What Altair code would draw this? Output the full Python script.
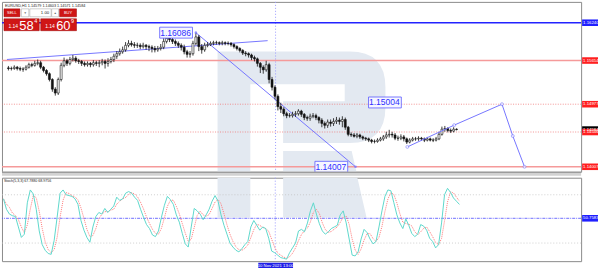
import altair as alt
import pandas as pd

# ---------------- data ----------------
header_text = "EURUSD,H1  1.14579 1.14603 1.14571 1.14584"
stoch_text = "Stoch(5,3,3) 67.7880 68.9756"

first_open = 1.1554
close = [1.1553, 1.1553, 1.1555, 1.1553, 1.1552, 1.1552, 1.1555, 1.1559, 1.1558, 1.1561,
         1.1562, 1.1555, 1.1550, 1.1545, 1.1536, 1.1521, 1.1515, 1.1536, 1.1558, 1.1565,
         1.1561, 1.1567, 1.1569, 1.1565, 1.1564, 1.1561, 1.1559, 1.1561, 1.1559, 1.1562,
         1.1561, 1.1562, 1.1564, 1.1561, 1.1564, 1.1567, 1.1572, 1.1576, 1.1579, 1.1582,
         1.1589, 1.1592, 1.1590, 1.1589, 1.1589, 1.1587, 1.1589, 1.1587, 1.1586, 1.1584,
         1.1582, 1.1584, 1.1586, 1.1595, 1.1600, 1.1598, 1.1595, 1.1592, 1.1589, 1.1586,
         1.1579, 1.1575, 1.1576, 1.1592, 1.1602, 1.1587, 1.1582, 1.1589, 1.1590, 1.1592,
         1.1593, 1.1593, 1.1592, 1.1593, 1.1592, 1.1592, 1.1590, 1.1587, 1.1584, 1.1581,
         1.1577, 1.1576, 1.1574, 1.1570, 1.1568, 1.1561, 1.1555, 1.1551, 1.1559, 1.1536,
         1.1524, 1.1510, 1.1494, 1.1490, 1.1483, 1.1480, 1.1480, 1.1482, 1.1483, 1.1487,
         1.1482, 1.1477, 1.1476, 1.1479, 1.1480, 1.1477, 1.1473, 1.1468, 1.1465, 1.1470,
         1.1468, 1.1471, 1.1473, 1.1471, 1.1474, 1.1462, 1.1451, 1.1450, 1.1448, 1.1450,
         1.1447, 1.1445, 1.1444, 1.1442, 1.1440, 1.1440, 1.1442, 1.1444, 1.1447, 1.1450,
         1.1451, 1.1450, 1.1445, 1.1445, 1.1447, 1.1444, 1.1439, 1.1442, 1.1444, 1.1444,
         1.1445, 1.1444, 1.1442, 1.1444, 1.1442, 1.1442, 1.1444, 1.1451, 1.1459, 1.1460,
         1.1457, 1.1456, 1.1459, 1.14584]
high = [1.1557, 1.1556, 1.1558, 1.1557, 1.1556, 1.1555, 1.1558, 1.1562, 1.1562, 1.1565,
        1.1567, 1.1565, 1.1557, 1.1552, 1.1547, 1.1538, 1.1524, 1.1539, 1.1562, 1.1570,
        1.1568, 1.1571, 1.1574, 1.1572, 1.1568, 1.1566, 1.1564, 1.1564, 1.1563, 1.1566,
        1.1565, 1.1566, 1.1568, 1.1567, 1.1569, 1.1571, 1.1576, 1.1580, 1.1584, 1.1587,
        1.1594, 1.1597, 1.1596, 1.1594, 1.1593, 1.1592, 1.1593, 1.1591, 1.1590, 1.1589,
        1.1588, 1.1588, 1.1591, 1.1600, 1.1605, 1.1604, 1.1601, 1.1598, 1.1595, 1.1592,
        1.1590, 1.1582, 1.1580, 1.1596, 1.16086, 1.1605, 1.1591, 1.1593, 1.1594, 1.1595,
        1.1596, 1.1596, 1.1595, 1.1596, 1.1595, 1.1595, 1.1594, 1.1592, 1.1589, 1.1586,
        1.1583, 1.1580, 1.1578, 1.1576, 1.1573, 1.1570, 1.1563, 1.1558, 1.1565, 1.1562,
        1.1540, 1.1527, 1.1513, 1.1500, 1.1493, 1.1486, 1.1484, 1.1486, 1.1487, 1.1490,
        1.1489, 1.1484, 1.1480, 1.1483, 1.1484, 1.1483, 1.1479, 1.1476, 1.1471, 1.1474,
        1.1474, 1.1476, 1.1478, 1.1477, 1.1479, 1.1477, 1.1464, 1.1454, 1.1453, 1.1453,
        1.1452, 1.1449, 1.1447, 1.1446, 1.1444, 1.1443, 1.1445, 1.1447, 1.1450, 1.1455,
        1.1458, 1.1455, 1.1453, 1.1449, 1.1451, 1.1450, 1.1446, 1.1445, 1.1447, 1.1447,
        1.1448, 1.1447, 1.1446, 1.1447, 1.1446, 1.1445, 1.1447, 1.1455, 1.1463, 1.1464,
        1.1462, 1.1460, 1.1462, 1.14603]
low = [1.1550, 1.1550, 1.1551, 1.1550, 1.1549, 1.1548, 1.1550, 1.1553, 1.1555, 1.1556,
       1.1558, 1.1552, 1.1547, 1.1542, 1.1533, 1.1517, 1.1511, 1.1512, 1.1533, 1.1555,
       1.1557, 1.1558, 1.1564, 1.1562, 1.1560, 1.1557, 1.1556, 1.1556, 1.1555, 1.1556,
       1.1557, 1.1555, 1.1558, 1.1553, 1.1556, 1.1561, 1.1563, 1.1568, 1.1573, 1.1576,
       1.1579, 1.1586, 1.1587, 1.1585, 1.1585, 1.1583, 1.1584, 1.1582, 1.1580, 1.1578,
       1.1578, 1.1579, 1.1581, 1.1583, 1.1592, 1.1594, 1.1591, 1.1588, 1.1585, 1.1581,
       1.1575, 1.1570, 1.1570, 1.1573, 1.1589, 1.1580, 1.1576, 1.1579, 1.1586, 1.1588,
       1.1589, 1.1590, 1.1589, 1.1589, 1.1589, 1.1589, 1.1587, 1.1584, 1.1581, 1.1578,
       1.1574, 1.1572, 1.1570, 1.1566, 1.1564, 1.1556, 1.1546, 1.1545, 1.1548, 1.1530,
       1.1519, 1.1505, 1.1488, 1.1484, 1.1479, 1.1476, 1.1477, 1.1477, 1.1478, 1.1480,
       1.1478, 1.1473, 1.1472, 1.1472, 1.1476, 1.1473, 1.1468, 1.1462, 1.1460, 1.1461,
       1.1463, 1.1464, 1.1467, 1.1466, 1.1462, 1.1458, 1.1448, 1.1447, 1.1446, 1.1445,
       1.1444, 1.1442, 1.1441, 1.1439, 1.1437, 1.1437, 1.1438, 1.1440, 1.1441, 1.1444,
       1.1446, 1.1446, 1.1442, 1.1441, 1.1442, 1.1440, 1.1436, 1.1437, 1.1440, 1.1441,
       1.1441, 1.1441, 1.1439, 1.1440, 1.1440, 1.1439, 1.1440, 1.1442, 1.1449, 1.1455,
       1.1454, 1.1453, 1.1454, 1.14571]
stoch_k = [75, 62, 56, 54, 53, 40, 27, 31, 70, 86,
           81, 62, 35, 18, 11, 7, 6, 23, 52, 82,
           86, 80, 79, 78, 75, 68, 48, 36, 27, 21,
           40, 53, 58, 56, 63, 58, 62, 66, 77, 73,
           75, 82, 84, 82, 77, 73, 62, 52, 43, 38,
           30, 28, 35, 52, 67, 78, 74, 68, 55, 46,
           32, 19, 15, 40, 63, 60, 56, 49, 55, 62,
           72, 79, 72, 55, 42, 31, 20, 15, 11, 9,
           13, 18, 22, 40, 48, 42, 36, 40, 38, 26,
           10, 8, 5, 2, 1, 0, 8, 14, 20, 35,
           37, 34, 45, 60, 70, 56, 44, 35, 31, 34,
           38, 40, 42, 55, 60, 45, 25, 5, 4, 9,
           25, 37, 33, 25, 19, 22, 40, 60, 78, 86,
           85, 70, 55, 45, 38, 50, 42, 32, 28, 31,
           43, 41, 36, 26, 22, 14, 18, 45, 80, 88,
           83, 76, 72, 68]

date_ticks = [0, 8, 16, 24, 32, 40, 48, 56, 64, 72, 80, 88, 96, 104, 112, 120, 128, 136, 144, 152]
date_labels = ["4 Nov 2021", "5 Nov 07:00", "5 Nov 15:00", "5 Nov 23:00", "8 Nov 08:00",
               "8 Nov 16:00", "9 Nov 00:00", "9 Nov 08:00", "9 Nov 16:00", "10 Nov 00:00",
               "10 Nov 08:00", "10 Nov 16:00", "11 Nov 00:00", "11 Nov 08:00", "11 Nov 16:00",
               "12 Nov 00:00", "12 Nov 08:00", "12 Nov 16:00", "15 Nov 00:00", "15 Nov 08:00"]

price_ticks = [1.1638, 1.1619, 1.1600, 1.1581, 1.1562, 1.1543, 1.1524,
               1.1505, 1.1486, 1.1467, 1.1448, 1.1429, 1.1410]
stoch_ticks = [0, 20, 80, 100]

blue_levels = [1.16240]
red_solid_levels = [1.15654, 1.14007]
red_dotted_levels = [1.14977, 1.14546]

up_trend_idx = [-0.5, 88.5]
up_trend_price = [1.15670, 1.15962]
down_trend_idx = [64, 118.5]
down_trend_price = [1.16086, 1.14007]
forecast_idx = [136.2, 152.2, 168.5, 172.2, 176.2]
forecast_price = [1.14315, 1.14653, 1.14977, 1.14484, 1.14007]

note_text = ["1.16086", "1.15004", "1.14007"]
note_idx = [62.5, 133.8, 115.5]
note_price = [1.16086, 1.15004, 1.14007]

tag_price = [1.16240, 1.15654, 1.14977, 1.14584, 1.14546, 1.14007]
tag_color = ["#1f1fff", "#ff1f1f", "#ff1f1f", "#000000", "#ff1f1f", "#ff1f1f"]

crosshair_idx = 91.2
crosshair_time = "10 Nov 2021 13:00"
crosshair_stoch = 50.7583
stoch_levels = [20, 80]

# ---------------- frames ----------------
W, H_MAIN, H_IND, GAP = 583, 171, 84, 4
FONT = "Liberation Sans"

candles = pd.DataFrame({"i": list(range(len(close))), "open": [first_open] + close[:-1],
                        "high": high, "low": low, "close": close})
stoch = pd.DataFrame({"i": list(range(len(stoch_k))), "k": stoch_k})

xs = alt.Scale(domain=[-0.5, 193.83], nice=False, zero=False)
ys = alt.Scale(domain=[1.13930, 1.16563], nice=False, zero=False)
ss = alt.Scale(domain=[-2.5, 101.2], nice=False, zero=False)
one = alt.Data(values=[{"a": 1}])


def box(x0, x1, y0, y1, **kw):
    return alt.Chart(one).mark_rect(**kw).encode(
        x=alt.value(x0), x2=alt.value(x1), y=alt.value(y0), y2=alt.value(y1))


def txt(x, y, s, **kw):
    kw.setdefault("font", FONT)
    return alt.Chart(one).mark_text(text=s, **kw).encode(x=alt.value(x), y=alt.value(y))


# watermark "R" (decoration), drawn clipped in each panel
r_path = ("M217,50 H350 Q386,50 386,86 V106 Q386,142 350,142 H283 V100 H345 V83 H250 V215 H217 Z "
          "M283,150 H352 L367,215 H283 Z")


def watermark(dy):
    return alt.Chart(one).mark_point(shape=r_path, size=4, filled=True, fill="#e3e9f1",
                                     opacity=1, strokeWidth=0, clip=True).encode(
        x=alt.value(0), y=alt.value(dy))


y_axis = alt.Axis(orient="right", values=price_ticks, format=".5f", labelFontSize=4.3,
                  labelFont=FONT, labelColor="#444", tickSize=2, tickColor="#888",
                  labelPadding=1, domainColor="#888", grid=False, title=None)

blue_lv = alt.Chart(pd.DataFrame({"p": blue_levels})).mark_rule(color="#2323ff", strokeWidth=1.5).encode(
    y=alt.Y("p:Q", scale=ys, axis=None))
red_lv = alt.Chart(pd.DataFrame({"p": red_solid_levels})).mark_rule(color="#f59a9a", strokeWidth=1.5).encode(
    y=alt.Y("p:Q", scale=ys, axis=None))
red_dot = alt.Chart(pd.DataFrame({"p": red_dotted_levels})).mark_rule(
    color="#f07878", strokeWidth=0.8, strokeDash=[1, 1.5]).encode(y=alt.Y("p:Q", scale=ys, axis=None))
vcross_main = alt.Chart(pd.DataFrame({"i": [crosshair_idx]})).mark_rule(
    color="#9a9aff", strokeWidth=1, strokeDash=[1, 2]).encode(x=alt.X("i:Q", scale=xs, axis=None))

wick = alt.Chart(candles).mark_rule(color="#111", strokeWidth=0.8).encode(
    x=alt.X("i:Q", scale=xs, axis=None), y=alt.Y("low:Q", scale=ys, axis=y_axis), y2="high:Q")
body = alt.Chart(candles).mark_bar(size=2, stroke="#111", strokeWidth=0.6).encode(
    x=alt.X("i:Q", scale=xs, axis=None), y=alt.Y("open:Q", scale=ys, axis=None), y2="close:Q",
    fill=alt.condition("datum.close >= datum.open", alt.value("white"), alt.value("#111")))

trend_col = "#7676ff"
up_tr = alt.Chart(pd.DataFrame({"i": up_trend_idx, "p": up_trend_price})).mark_line(
    color=trend_col, strokeWidth=1).encode(x=alt.X("i:Q", scale=xs, axis=None), y=alt.Y("p:Q", scale=ys, axis=None))
down_df = pd.DataFrame({"i": down_trend_idx, "p": down_trend_price})
down_tr = alt.Chart(down_df).mark_line(color=trend_col, strokeWidth=1).encode(
    x=alt.X("i:Q", scale=xs, axis=None), y=alt.Y("p:Q", scale=ys, axis=None))
down_pts = alt.Chart(down_df).mark_point(size=7, color=trend_col, filled=True).encode(
    x=alt.X("i:Q", scale=xs, axis=None), y=alt.Y("p:Q", scale=ys, axis=None))
fc_df = pd.DataFrame({"i": forecast_idx, "p": forecast_price, "o": list(range(len(forecast_idx)))})
fc_line = alt.Chart(fc_df).mark_line(color=trend_col, strokeWidth=1).encode(
    x=alt.X("i:Q", scale=xs, axis=None), y=alt.Y("p:Q", scale=ys, axis=None), order="o:Q")
fc_pts = alt.Chart(fc_df).mark_point(size=9, color=trend_col, fill="white", filled=False,
                                     strokeWidth=0.8).encode(
    x=alt.X("i:Q", scale=xs, axis=None), y=alt.Y("p:Q", scale=ys, axis=None))

notes = pd.DataFrame({"t": note_text, "i": note_idx, "p": note_price})
note_box = alt.Chart(notes).mark_rect(fill="#f6f6ff", stroke="#5a5aff", strokeWidth=0.8,
                                      xOffset=-32, x2Offset=1, yOffset=-5.5, y2Offset=5.5).encode(
    x=alt.X("i:Q", scale=xs, axis=None), x2="i:Q", y=alt.Y("p:Q", scale=ys, axis=None), y2="p:Q")
note_txt = alt.Chart(notes).mark_text(align="right", baseline="middle", fontSize=8.6, font=FONT,
                                      color="#2f2fff", dx=-0.5).encode(
    x=alt.X("i:Q", scale=xs, axis=None), y=alt.Y("p:Q", scale=ys, axis=None), text="t:N")

tags = pd.DataFrame({"p": tag_price, "c": tag_color})
tag_box = alt.Chart(tags).mark_rect(yOffset=-3.3, y2Offset=3.3).encode(
    x=alt.value(584), x2=alt.value(600), y=alt.Y("p:Q", scale=ys, axis=None), y2="p:Q",
    fill=alt.Fill("c:N", scale=None))
tag_txt = alt.Chart(tags).mark_text(align="left", baseline="middle", fontSize=4.3, font=FONT,
                                    color="white").encode(
    x=alt.value(585), y=alt.Y("p:Q", scale=ys, axis=None), text=alt.Text("p:Q", format=".5f"))

header = txt(3, 4, header_text, align="left", baseline="middle", fontSize=3.8, color="#222")

red = "#cf1616"
widget = [
    box(2, 18, 7, 15, fill=red, stroke="#9b0000", strokeWidth=0.5),
    box(19.5, 27, 7, 15, fill="white", stroke="#9a9a9a", strokeWidth=0.5),
    box(28, 49.5, 7, 15, fill="white", stroke="#9a9a9a", strokeWidth=0.5),
    box(50, 57, 7, 15, fill="white", stroke="#9a9a9a", strokeWidth=0.5),
    box(58, 75, 7, 15, fill=red, stroke="#9b0000", strokeWidth=0.5),
    box(2, 37.5, 17, 29, fill=red, stroke="#9b0000", strokeWidth=0.5),
    box(39, 75, 17, 29, fill=red, stroke="#9b0000", strokeWidth=0.5),
    txt(10, 11.2, "SELL", align="center", baseline="middle", fontSize=4, color="white"),
    txt(66.5, 11.2, "BUY", align="center", baseline="middle", fontSize=4, color="white"),
    txt(23.3, 11.2, "\u25BC", align="center", baseline="middle", fontSize=3, color="#666"),
    txt(53.5, 11.2, "\u25B2", align="center", baseline="middle", fontSize=3, color="#666"),
    txt(47.5, 11.2, "1.00", align="right", baseline="middle", fontSize=4.3, color="#222"),
    txt(6.5, 26.5, "1.14", align="left", baseline="alphabetic", fontSize=5, color="white"),
    txt(17.5, 28, "58", align="left", baseline="alphabetic", fontSize=13, color="white"),
    txt(32.5, 21.5, "4", align="left", baseline="alphabetic", fontSize=5.5, color="white"),
    txt(43.5, 26.5, "1.14", align="left", baseline="alphabetic", fontSize=5, color="white"),
    txt(54.5, 28, "60", align="left", baseline="alphabetic", fontSize=13, color="white"),
    txt(69.5, 21.5, "9", align="left", baseline="alphabetic", fontSize=5.5, color="white"),
]

# grey separator between the two panes (belongs to the price pane's bottom edge)
separator = [
    box(0, W, H_MAIN, H_MAIN + GAP, fill="#d2d2d2"),
    box(0, W, H_MAIN, H_MAIN + 1, fill="#8a8a8a"),
]

main = alt.layer(watermark(0), red_dot, vcross_main, blue_lv, red_lv, up_tr, down_tr,
                 wick, body, fc_line, fc_pts, down_pts, note_box, note_txt,
                 tag_box, tag_txt, header, *widget, *separator).properties(width=W, height=H_MAIN)

# ---------------- indicator ----------------
label_expr = ("[" + ",".join("'%s'" % t for t in date_labels) + "][indexof(["
              + ",".join(str(v) for v in date_ticks) + "], datum.value)]")
x_axis = alt.Axis(values=date_ticks, labelExpr=label_expr, labelAlign="left", labelBaseline="top",
                  labelFontSize=4.3, labelFont=FONT, labelColor="#444", tickSize=2, tickColor="#888",
                  labelPadding=1, domainColor="#888", grid=False, title=None,
                  labelOverlap=False, labelFlush=False)
s_axis = alt.Axis(orient="right", values=stoch_ticks, format="d", labelFontSize=4.3, labelFont=FONT,
                  labelColor="#444", tickSize=2, tickColor="#888", labelPadding=1,
                  domainColor="#888", grid=False, title=None)

lv = alt.Chart(pd.DataFrame({"v": stoch_levels})).mark_rule(
    color="#c4c4c4", strokeWidth=0.8, strokeDash=[1, 2]).encode(y=alt.Y("v:Q", scale=ss, axis=None))
hcross = alt.Chart(pd.DataFrame({"v": [crosshair_stoch]})).mark_rule(
    color="#4a4aff", strokeWidth=0.8, strokeDash=[3, 1, 1, 1]).encode(y=alt.Y("v:Q", scale=ss, axis=None))
vcross = alt.Chart(pd.DataFrame({"i": [crosshair_idx]})).mark_rule(
    color="#9a9aff", strokeWidth=1, strokeDash=[1, 2]).encode(x=alt.X("i:Q", scale=xs, axis=None))
k_line = alt.Chart(stoch).mark_line(color="#5fd8cc", strokeWidth=1).encode(
    x=alt.X("i:Q", scale=xs, axis=x_axis), y=alt.Y("k:Q", scale=ss, axis=s_axis))
d_line = alt.Chart(stoch).transform_window(
    d="mean(k)", frame=[-2, 0], sort=[alt.SortField("i")]).mark_line(
    color="#ff7a7a", strokeWidth=1, strokeDash=[1, 1]).encode(
    x=alt.X("i:Q", scale=xs, axis=None), y=alt.Y("d:Q", scale=ss, axis=None))
s_title = txt(2, 3.5, stoch_text, align="left", baseline="middle", fontSize=3.6, color="#222")
s_tag = alt.Chart(pd.DataFrame({"v": [crosshair_stoch]})).mark_rect(
    fill="#1f1fff", yOffset=-3.3, y2Offset=3.3).encode(
    x=alt.value(584), x2=alt.value(600), y=alt.Y("v:Q", scale=ss, axis=None), y2="v:Q")
s_tag_txt = alt.Chart(pd.DataFrame({"v": [crosshair_stoch]})).mark_text(
    align="left", baseline="middle", fontSize=4.3, font=FONT, color="white").encode(
    x=alt.value(585), y=alt.Y("v:Q", scale=ss, axis=None), text=alt.Text("v:Q", format=".4f"))
t_tag = box(258, 293, H_IND + 1.5, H_IND + 7.5, fill="#2020e8")
t_tag_txt = txt(275.5, H_IND + 4.6, crosshair_time, align="center", baseline="middle",
                fontSize=4.3, color="white")

ind = alt.layer(watermark(-(H_MAIN + GAP)), lv, hcross, vcross, d_line, k_line, s_title,
                s_tag, s_tag_txt, t_tag, t_tag_txt).properties(width=W, height=H_IND)

chart = alt.vconcat(main, ind, spacing=0).properties(
    padding=0, background="white"
).configure_view(stroke="#8a8a8a", strokeWidth=1, fill="white")

chart.save("out.html", embed_options={"renderer": "svg", "actions": False})
